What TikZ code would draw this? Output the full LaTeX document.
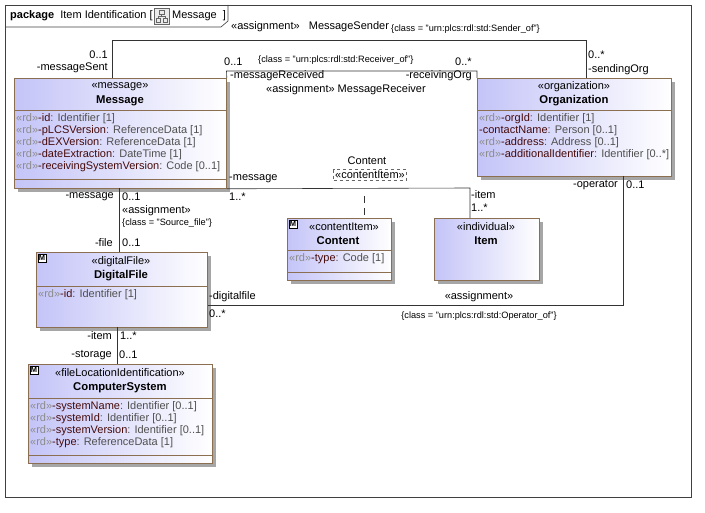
\documentclass[tikz,border=0pt]{standalone}
\usepackage{fontspec}
\setmainfont{Liberation Sans}
\usetikzlibrary{positioning}
\definecolor{ubl}{RGB}{196,196,248}
\definecolor{bc}{RGB}{140,110,80}
\definecolor{rdc}{RGB}{140,140,140}
\definecolor{anc}{RGB}{70,10,10}
\definecolor{tyc}{RGB}{80,80,80}
\newcommand\rdx{\textcolor{rdc}{«rd»}}
\newcommand\att[2]{\textcolor{anc}{#1}\textcolor{tyc}{ : #2}}
\newcommand\umlbox[5]{%
  \fill[black!35] (#2+4,#3+4) rectangle ++(#4,#5);
  \node[ubox, minimum width=#4pt, minimum height=#5pt, anchor=north west] (#1) at (#2,#3) {};}
\newcommand\micon[2]{\node[draw,fill=white,inner sep=0pt,minimum size=8pt,font=\fontsize{7.5}{7.5}\selectfont\bfseries] at (#1+6,#2+6) {M};}
\tikzset{
  ubox/.style={draw=bc, line width=0.8pt, left color=ubl, right color=white, inner sep=0pt},
  t/.style={font=\fontsize{11}{12}\selectfont, inner sep=0pt},
  tb/.style={font=\fontsize{11.3}{12}\selectfont\bfseries, inner sep=0pt},
  ts/.style={font=\fontsize{9.2}{10}\selectfont, inner sep=0pt},
  attr/.style={font=\fontsize{11}{12}\selectfont, inner sep=0pt, align=left, anchor=north west},
  ln/.style={draw=black!80, line width=0.6pt},
  sep/.style={draw=bc, line width=0.8pt},
}
\begin{document}
\begin{tikzpicture}[x=1pt,y=-1pt]
\useasboundingbox (0,0) rectangle (705,513);
% frame
\draw[black!75,line width=0.6pt] (5,5) rectangle (691,497);
\draw[black!75,line width=0.6pt] (5,27) -- (221,27) -- (228,21) -- (228,5);
\node[t,anchor=west] at (10,16) {\textbf{package}\ \ Item Identification [};
\draw[black!60,fill=black!8] (154,8) rectangle (169,24);
\draw[black!60] (159,10) rectangle (164,14) (156,18) rectangle (160,22) (163,18) rectangle (167,22) (161.5,14)--(161.5,16) (158,16)--(165,16)--(165,18) (158,16)--(158,18);
\node[t,anchor=west] at (172,16) {Message\ \ ]};

% boxes
\umlbox{msg}{14}{78}{212}{110}
\draw[sep] (14,110) -- (226,110) (14,179) -- (226,179);
\node[t] at (120,87) {«message»};
\node[tb] at (120,101) {Message};
\node[attr] at (16,113) {\rdx\att{-id}{Identifier [1]}\\ \rdx\att{-pLCSVersion}{ReferenceData [1]}\\ \rdx\att{-dEXVersion}{ReferenceData [1]}\\ \rdx\att{-dateExtraction}{DateTime [1]}\\ \rdx\att{-receivingSystemVersion}{Code [0..1]}};

\umlbox{org}{477}{78}{194}{98}
\draw[sep] (477,110) -- (671,110);
\node[t] at (574,87) {«organization»};
\node[tb] at (574,101) {Organization};
\node[attr] at (479,113) {\rdx\att{-orgId}{Identifier [1]}\\ \att{-contactName}{Person [0..1]}\\ \rdx\att{-address}{Address [0..1]}\\ \rdx\att{-additionalIdentifier}{Identifier [0..*]}};

\umlbox{cont}{287}{218}{104}{62}
\draw[sep] (287,250) -- (391,250) (287,272) -- (391,272);
\micon{287}{218}
\node[t] at (344,227) {«contentItem»};
\node[tb] at (338,241) {Content};
\node[attr] at (289,253) {\rdx\att{-type}{Code [1]}};

\umlbox{item}{434}{218}{105}{62}
\node[t] at (486,227) {«individual»};
\node[tb] at (486,241) {Item};

\umlbox{df}{36}{252}{171}{75}
\draw[sep] (36,286) -- (207,286);
\micon{36}{252}
\node[t] at (121,262) {«digitalFile»};
\node[tb] at (121,276) {DigitalFile};
\node[attr] at (38,289) {\rdx\att{-id}{Identifier [1]}};

\umlbox{cs}{28}{364}{184}{99}
\draw[sep] (28,398) -- (212,398) (28,455) -- (212,455);
\micon{28}{364}
\node[t] at (120,373) {«fileLocationIdentification»};
\node[tb] at (120,388) {ComputerSystem};
\node[attr] at (30,401) {\rdx\att{-systemName}{Identifier [0..1]}\\ \rdx\att{-systemId}{Identifier [0..1]}\\ \rdx\att{-systemVersion}{Identifier [0..1]}\\ \rdx\att{-type}{ReferenceData [1]}};

% connectors
\coordinate (s1) at (112,40); \coordinate (s2) at (586,40);
\draw[ln] (msg.north west -| s1) -- (s1) -- (s2) -- (org.north west -| s2);
\coordinate (r1) at (226.5,71); \coordinate (r2) at (477,71);
\draw[ln] (msg.north east) -- (r1) -- (r2) -- (org.north west);
\coordinate (c1) at (470,188);
\draw[ln] (msg.south east) -- (c1) -- (item.north west -| c1);
\node[draw=black!60,dashed,line width=0.4pt,t,inner sep=1.5pt] (cls) at (370,175) {«contentItem»};
\node[t] at (367,161) {Content};
\coordinate (c2) at (364,196);
\draw[ln,dashed,dash pattern=on 7pt off 5pt] (c2) -- (cont.north west -| c2);
\coordinate (m1) at (119,188);
\draw[ln] (m1) -- (df.north west -| m1);
\coordinate (d1) at (117,327);
\draw[ln] (d1) -- (cs.north west -| d1);
\coordinate (o1) at (623,176); \coordinate (o2) at (623,305);
\draw[ln] (o1) -- (o2) -- (df.north east |- o2);

% labels
\node[t,anchor=west] at (231,27) {«assignment»\ \ \ MessageSender};
\node[ts,anchor=west] at (391,29) {\{class = "urn:plcs:rdl:std:Sender\_of"\}};
\node[t,anchor=east] at (108,55) {0..1};
\node[t,anchor=east] at (108,68) {-messageSent};
\node[t,anchor=west] at (224,62) {0..1};
\node[ts,anchor=west] at (258,60) {\{class = "urn:plcs:rdl:std:Receiver\_of"\}};
\node[t,anchor=west] at (455,62) {0..*};
\node[t,anchor=west] at (230,76) {-messageReceived};
\node[t,anchor=east] at (472,76) {-receivingOrg};
\node[t,anchor=west] at (266,90) {«assignment» MessageReceiver};
\node[t,anchor=west] at (588,55) {0..*};
\node[t,anchor=west] at (588,70) {-sendingOrg};
\node[t,anchor=west] at (229,179) {-message};
\node[t,anchor=east] at (618,185) {-operator};
\node[t,anchor=west] at (626,185) {0..1};
\node[t,anchor=west] at (471,195) {-item};
\node[t,anchor=west] at (471,208) {1..*};
\node[t,anchor=east] at (114,197) {-message};
\node[t,anchor=west] at (122,197) {0..1};
\node[t,anchor=west] at (229,197) {1..*};
\node[t,anchor=west] at (122,211) {«assignment»};
\node[ts,anchor=west] at (122,223) {\{class = "Source\_file"\}};
\node[t,anchor=east] at (113,243) {-file};
\node[t,anchor=west] at (122,243) {0..1};
\node[t,anchor=west] at (209,297) {-digitalfile};
\node[t,anchor=west] at (209,314) {0..*};
\node[t] at (479,297) {«assignment»};
\node[ts] at (479,316) {\{class = "urn:plcs:rdl:std:Operator\_of"\}};
\node[t,anchor=east] at (112,336) {-item};
\node[t,anchor=west] at (120,336) {1..*};
\node[t,anchor=east] at (112,355) {-storage};
\node[t,anchor=west] at (119,355) {0..1};
\end{tikzpicture}
\end{document}
